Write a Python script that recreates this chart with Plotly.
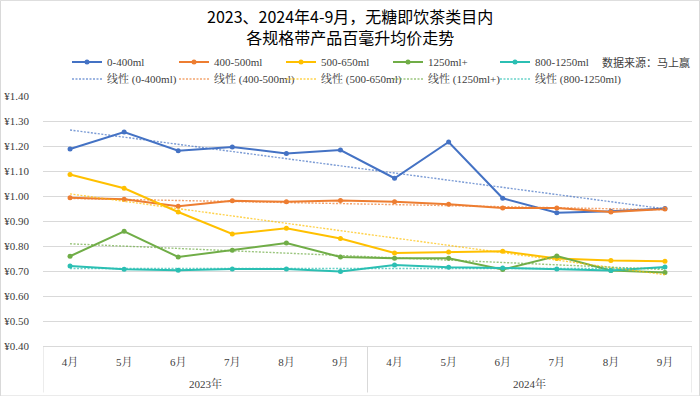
import numpy as np
import plotly.graph_objects as go

years = ["2023年", "2024年"]
months = ["4月", "5月", "6月", "7月", "8月", "9月"] * 2
title_lines = ["2023、2024年4-9月，无糖即饮茶类目内", "各规格带产品百毫升均价走势"]
source_text = "数据来源：马上赢"

s_0_400 = [1.188, 1.256, 1.181, 1.196, 1.170, 1.184, 1.071, 1.216, 0.991, 0.933, 0.939, 0.950]
s_400_500 = [0.993, 0.987, 0.959, 0.981, 0.977, 0.982, 0.977, 0.967, 0.952, 0.952, 0.936, 0.948]
s_500_650 = [1.086, 1.031, 0.936, 0.848, 0.871, 0.830, 0.772, 0.776, 0.779, 0.750, 0.742, 0.739]
s_1250p = [0.759, 0.859, 0.756, 0.783, 0.812, 0.756, 0.751, 0.751, 0.706, 0.760, 0.702, 0.694]
s_800_1250 = [0.720, 0.707, 0.703, 0.708, 0.708, 0.698, 0.724, 0.715, 0.712, 0.708, 0.702, 0.716]

series = [
    ("0-400ml", s_0_400, "#4472C4"),
    ("400-500ml", s_400_500, "#ED7D31"),
    ("500-650ml", s_500_650, "#FFC000"),
    ("1250ml+", s_1250p, "#70AD47"),
    ("800-1250ml", s_800_1250, "#2BBFB3"),
]

W, H = 700, 396
L, R, T, B = 43, 8, 96, 50.4
pw, ph = W - L - R, H - T - B

serif = "Liberation Serif, Noto Serif CJK SC, Noto Sans CJK SC"
fig = go.Figure()
idx = np.arange(len(months))
per_year = len(months) // len(years)

for name, vals, col in series:
    fig.add_trace(go.Scatter(
        x=idx, y=vals, name=name, mode="lines+markers",
        line=dict(color=col, width=2), marker=dict(color=col, size=5),
        legend="legend"))

for name, vals, col in series:
    k, b = np.polyfit(idx, np.array(vals), 1)
    fig.add_trace(go.Scatter(
        x=idx, y=(k * idx + b).tolist(), name="线性 (" + name + ")", mode="lines",
        line=dict(color=col, width=1.4, dash="2px,1.5px"), opacity=0.7,
        legend="legend2"))

# invisible spacer so the last trendline legend entry is not clipped
fig.add_trace(go.Scatter(x=[None], y=[None], name=" ", mode="lines",
                         line=dict(color="rgba(0,0,0,0)"), legend="legend2",
                         hoverinfo="skip"))

def ypaper(py):
    return (H - B - py) / ph

def xpaper(px):
    return (px - L) / pw

legfont = dict(family=serif, size=11, color="#404040")
annots = [dict(text="<br>".join(title_lines), x=xpaper(W / 2), xref="paper", xanchor="center",
               y=ypaper(26.6), yref="paper", yanchor="middle", showarrow=False,
               font=dict(family="Noto Sans CJK SC", size=16, color="black"))]
annots.append(dict(text=source_text, x=xpaper(692), xref="paper", xanchor="right",
                   y=ypaper(62), yref="paper", yanchor="middle", showarrow=False,
                   font=dict(family="Noto Sans CJK SC", size=11, color="#404040")))
for i, yr in enumerate(years):
    annots.append(dict(text=yr, x=i * per_year + (per_year - 1) / 2, xref="x",
                       y=ypaper(383), yref="paper", yanchor="middle", showarrow=False,
                       font=dict(family=serif, size=11, color="#404040")))

shapes = [dict(type="rect", xref="paper", yref="paper",
               x0=xpaper(0.5), x1=xpaper(699.5), y0=ypaper(395.5), y1=ypaper(0.5),
               line=dict(color="#d9d9d9", width=1), fillcolor="rgba(0,0,0,0)", layer="below")]
for j in range(len(years) + 1):
    xd = j * per_year - 0.5
    shapes.append(dict(type="line", xref="x", yref="paper", x0=xd, x1=xd,
                       y0=ypaper(H - B), y1=ypaper(392),
                       line=dict(color="#d9d9d9", width=1)))

fig.update_layout(
    width=W, height=H,
    margin=dict(l=L, r=R, t=T, b=B, autoexpand=False),
    paper_bgcolor="white", plot_bgcolor="white",
    hovermode=False,
    legend=dict(orientation="h", x=xpaper(67), xanchor="left", y=ypaper(62), yanchor="middle",
                entrywidth=62, entrywidthmode="pixels", font=legfont,
                bgcolor="rgba(0,0,0,0)", tracegroupgap=0, itemclick=False),
    legend2=dict(orientation="h", x=xpaper(67), xanchor="left", y=ypaper(79), yanchor="middle",
                 entrywidth=62, entrywidthmode="pixels", font=legfont,
                 bgcolor="rgba(0,0,0,0)", tracegroupgap=0, itemclick=False),
    xaxis=dict(range=[-0.5, len(months) - 0.5], tickvals=idx.tolist(), ticktext=months,
               showgrid=False, showline=True, linecolor="#d9d9d9", zeroline=False,
               automargin=False, ticklabelstandoff=6,
               tickfont=dict(family=serif, size=11, color="#404040"), ticks=""),
    yaxis=dict(range=[0.4, 1.4], dtick=0.1, tickprefix="¥", tickformat=".2f",
               showgrid=True, gridcolor="#d9d9d9", gridwidth=1, zeroline=False,
               automargin=False, ticklabelstandoff=13,
               tickfont=dict(family=serif, size=11, color="#404040"), ticks=""),
    annotations=annots,
    shapes=shapes,
)

fig.write_html("out.html", config={"displayModeBar": False},
               post_script="document.body.style.margin='0';document.body.style.overflow='hidden';")
